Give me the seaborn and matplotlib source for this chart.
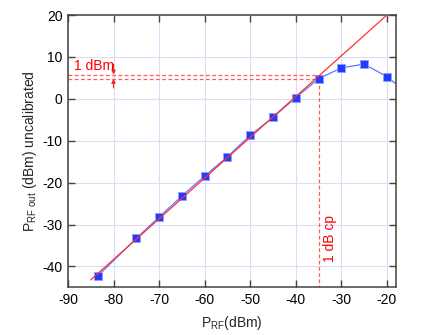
import matplotlib
matplotlib.use("Agg")
import matplotlib.pyplot as plt
import seaborn as sns
import pandas as pd

# data
p_in = [-83.5, -75, -70, -65, -60, -55, -50, -45, -40, -35, -30, -25, -20, -15]
p_out = [-42.3, -33.3, -28.2, -23.2, -18.4, -13.8, -8.7, -4.4, 0.3, 4.8, 7.4, 8.3, 5.3, 1.0]
lin_x = [-85, -20]
lin_y = [-43.2, 20]
cp_x = -35
cp_lin = 5.8
cp_comp = 4.8
x_ticks = [-90, -80, -70, -60, -50, -40, -30, -20]
y_ticks = [-40, -30, -20, -10, 0, 10, 20]

sns.set_theme(style="white")
plt.rcParams['font.family'] = ['Liberation Sans', 'DejaVu Sans']
plt.rcParams['axes.unicode_minus'] = False

fig = plt.figure(figsize=(4.3, 3.35), dpi=100)
ax = fig.add_axes([0.158, 0.142, 0.763, 0.813])

df = pd.DataFrame({"x": p_in, "y": p_out})
lin = pd.DataFrame({"x": lin_x, "y": lin_y})

sns.lineplot(data=lin, x="x", y="y", ax=ax, color="#ff3030", lw=0.9, zorder=3)
sns.lineplot(data=df, x="x", y="y", ax=ax, color="#5a78ff", lw=0.9, marker="s",
             markersize=5.5, markerfacecolor="#1f3cff", markeredgecolor="#8fa0ff",
             markeredgewidth=0.7, zorder=2)

ax.set_xlim(-90, -18)
ax.set_ylim(-45, 20)
ax.set_xticks(x_ticks)
ax.set_yticks(y_ticks)
ax.grid(True, color="#dcdcf6", lw=0.8)
ax.set_axisbelow(True)
ax.tick_params(direction="in", length=5, width=1, color="#444444", labelsize=10,
               top=True, right=True, bottom=True, left=True, labelcolor="black", pad=4)
for s in ax.spines.values():
    s.set_color("#444444")
    s.set_linewidth(1.1)

# dashed reference lines
dash = dict(ls=(0, (3, 2)), color="#ff5a5a", lw=0.9, zorder=1)
ax.plot([-90, cp_x], [cp_lin, cp_lin], **dash)
ax.plot([-90, cp_x], [cp_comp, cp_comp], **dash)
ax.plot([cp_x, cp_x], [cp_comp, -45], **dash)

arr = dict(arrowstyle="-|>", color="#ff2020", lw=0.8, mutation_scale=6,
           shrinkA=0, shrinkB=0)
ax.annotate("", xy=(-80, cp_lin), xytext=(-80, 8.3), arrowprops=arr)
ax.annotate("", xy=(-80, cp_comp), xytext=(-80, 2.6), arrowprops=arr)
ax.text(-88.6, 7.0, "1 dBm", color="red", fontsize=10, ha="left", va="baseline")
ax.text(-32.4, -38.9, "1 dB cp", color="red", fontsize=10, rotation=90,
        ha="center", va="bottom")

ax.set_xlabel(r"P$_{\mathregular{RF}}$(dBm)", fontsize=10, labelpad=5)
ax.set_ylabel(r"P$_{\mathregular{RF\ out}}$ (dBm) uncalibrated", fontsize=10, labelpad=2)

fig.savefig("out.png", dpi=100)
